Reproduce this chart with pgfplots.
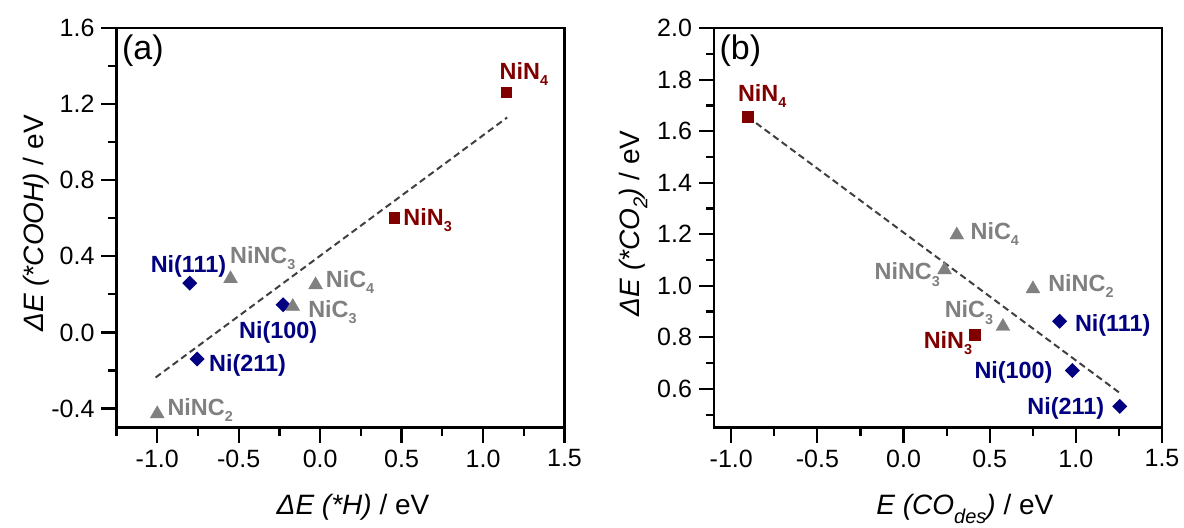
\documentclass[border=0pt]{standalone}
\usepackage{fontspec}
\setmainfont{Liberation Sans}
\usepackage{pgfplots}
\pgfplotsset{compat=1.18}
\definecolor{nred}{HTML}{800000}
\definecolor{nblue}{HTML}{000080}
\definecolor{ngray}{HTML}{808080}
\definecolor{nline}{HTML}{404040}
\pgfdeclareplotmark{dia}{%
  \pgfpathmoveto{\pgfqpoint{0pt}{\pgfplotmarksize}}%
  \pgfpathlineto{\pgfqpoint{\pgfplotmarksize}{0pt}}%
  \pgfpathlineto{\pgfqpoint{0pt}{-\pgfplotmarksize}}%
  \pgfpathlineto{\pgfqpoint{-\pgfplotmarksize}{0pt}}%
  \pgfpathclose
  \pgfusepathqfill}
\newcommand{\lbl}{\fontsize{11.7}{13}\selectfont\bfseries}
\newcommand{\sub}[1]{\raisebox{-0.5ex}{\fontsize{7.2}{8}\selectfont #1}}
\pgfplotsset{
  myax/.style={
    width=224pt, height=199.7pt, scale only axis,
    axis line style={line width=1.2pt},
    every tick/.style={line width=1.1pt, black},
    tick align=outside,
    xtick pos=left, ytick pos=left,
    major tick length=7.5pt, minor tick length=4pt,
    ticklabel style={font=\fontsize{12.5}{14}\selectfont},
    /pgf/number format/assume math mode=true,
    /pgf/number format/fixed,
    /pgf/number format/fixed zerofill,
    /pgf/number format/precision=1,
    label style={font=\fontsize{14}{16}\selectfont},
    clip=false,
  },
  sq/.style={only marks, mark=square*, mark size=2.6pt, color=nred, mark options={line width=0.2pt}},
  di/.style={only marks, mark=dia, mark size=3.75pt, color=nblue},
  tr/.style={only marks, mark=triangle*, mark size=4pt, color=ngray, mark options={line width=0.2pt}},
  fit/.style={no marks, color=nline, line width=1pt, dash pattern=on 3.3pt off 2pt},
}
\begin{document}
\begin{tikzpicture}
\path[use as bounding box] (-58.25pt,-49.75pt) rectangle (533.75pt,213.75pt);
% ---------------- panel (a)
\begin{axis}[myax,
  xmin=-1.25, xmax=1.5, ymin=-0.5, ymax=1.6,
  xtick={-1,-0.5,0,0.5,1,1.5},
  minor xtick={-1.25,-0.75,-0.25,0.25,0.75,1.25},
  ytick={-0.4,0,0.4,0.8,1.2,1.6},
  minor ytick={-0.2,0.2,0.6,1.0,1.4},
  xlabel={\textit{ΔE (*H)} / eV},
  ylabel={\textit{ΔE (*COOH)} / eV},
  xlabel style={at={(axis description cs:0.528,-0.219)}, anchor=base},
  ylabel style={at={(axis description cs:-0.1797,0.511)}, anchor=center},
]
\addplot[fit] coordinates {(-1.01,-0.237) (1.148,1.13)};
\addplot[sq] coordinates {(1.143,1.264) (0.455,0.604)};
\addplot[di] coordinates {(-0.800,0.259) (-0.227,0.145) (-0.755,-0.140)};
\addplot[tr] coordinates {(-0.550,0.282) (-0.028,0.250) (-0.168,0.136) (-1.0,-0.428)};
\node[anchor=base west, text=nred, font=\lbl, inner sep=0pt] at (axis cs:1.10,1.33) {NiN\sub{4}};
\node[anchor=base west, text=nred, font=\lbl, inner sep=0pt] at (axis cs:0.509,0.564) {NiN\sub{3}};
\node[anchor=base west, text=nblue, font=\lbl, inner sep=0pt] at (axis cs:-1.042,0.317) {Ni(111)};
\node[anchor=base west, text=ngray, font=\lbl, inner sep=0pt] at (axis cs:-0.555,0.361) {NiNC\sub{3}};
\node[anchor=base west, text=ngray, font=\lbl, inner sep=0pt] at (axis cs:0.033,0.236) {NiC\sub{4}};
\node[anchor=base west, text=ngray, font=\lbl, inner sep=0pt] at (axis cs:-0.075,0.077) {NiC\sub{3}};
\node[anchor=base west, text=nblue, font=\lbl, inner sep=0pt] at (axis cs:-0.499,-0.034) {Ni(100)};
\node[anchor=base west, text=nblue, font=\lbl, inner sep=0pt] at (axis cs:-0.684,-0.205) {Ni(211)};
\node[anchor=base west, text=ngray, font=\lbl, inner sep=0pt] at (axis cs:-0.939,-0.438) {NiNC\sub{2}};
\node[anchor=north west, font=\fontsize{17}{20}\selectfont, inner sep=0pt, xshift=2.6pt, yshift=-3.4pt] at (rel axis cs:0,1) {(a)};
\end{axis}
% ---------------- panel (b)
\begin{axis}[myax, at={(298.75pt,0pt)},
  xmin=-1.1, xmax=1.5, ymin=0.45, ymax=2.0,
  xtick={-1,-0.5,0,0.5,1,1.5},
  minor xtick={-0.75,-0.25,0.25,0.75,1.25},
  ytick={0.6,0.8,1.0,1.2,1.4,1.6,1.8,2.0},
  minor ytick={0.5,0.7,0.9,1.1,1.3,1.5,1.7,1.9},
  xlabel={\textit{E (CO\raisebox{-0.6ex}{\fontsize{10}{11}\selectfont des})} / eV},
  ylabel={\textit{ΔE (*CO\raisebox{-0.5ex}{\fontsize{10}{11}\selectfont 2})} / eV},
  xlabel style={at={(axis description cs:0.56,-0.219)}, anchor=base},
  ylabel style={at={(axis description cs:-0.1797,0.511)}, anchor=center},
]
\addplot[fit] coordinates {(-0.905,1.656) (1.251,0.586)};
\addplot[sq] coordinates {(-0.905,1.656) (0.412,0.810)};
\addplot[di] coordinates {(0.906,0.862) (0.980,0.671) (1.255,0.532)};
\addplot[tr] coordinates {(0.309,1.197) (0.238,1.062) (0.751,0.988) (0.577,0.842)};
\node[anchor=base west, text=nred, font=\lbl, inner sep=0pt] at (axis cs:-0.963,1.715) {NiN\sub{4}};
\node[anchor=base east, text=nred, font=\lbl, inner sep=0pt] at (axis cs:0.40,0.758) {NiN\sub{3}};
\node[anchor=base west, text=ngray, font=\lbl, inner sep=0pt] at (axis cs:0.387,1.18) {NiC\sub{4}};
\node[anchor=base east, text=ngray, font=\lbl, inner sep=0pt] at (axis cs:0.213,1.023) {NiNC\sub{3}};
\node[anchor=base west, text=ngray, font=\lbl, inner sep=0pt] at (axis cs:0.838,0.978) {NiNC\sub{2}};
\node[anchor=base east, text=ngray, font=\lbl, inner sep=0pt] at (axis cs:0.522,0.875) {NiC\sub{3}};
\node[anchor=base west, text=nblue, font=\lbl, inner sep=0pt] at (axis cs:0.993,0.823) {Ni(111)};
\node[anchor=base east, text=nblue, font=\lbl, inner sep=0pt] at (axis cs:0.867,0.642) {Ni(100)};
\node[anchor=base east, text=nblue, font=\lbl, inner sep=0pt] at (axis cs:1.167,0.499) {Ni(211)};
\node[anchor=north west, font=\fontsize{17}{20}\selectfont, inner sep=0pt, xshift=2.6pt, yshift=-3.4pt] at (rel axis cs:0,1) {(b)};
\end{axis}
\end{tikzpicture}
\end{document}
